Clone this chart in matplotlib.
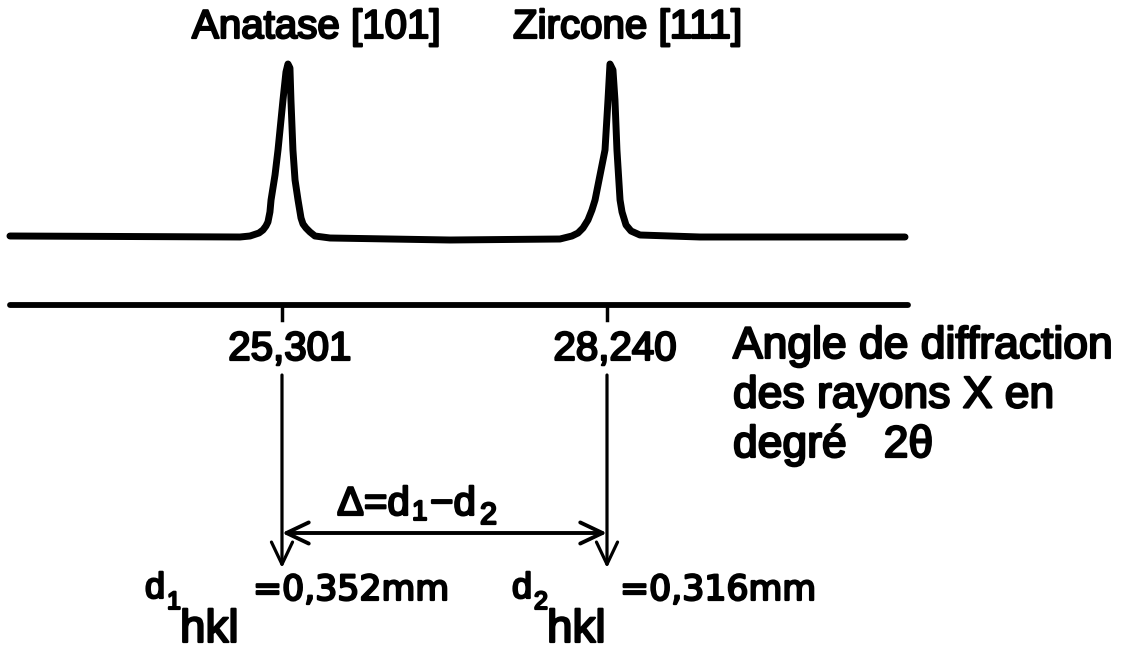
import matplotlib
matplotlib.use('Agg')
import matplotlib.pyplot as plt
from matplotlib.patches import FancyArrowPatch
import matplotlib.patheffects as pe

# Diffractogram trace (2 theta in degrees, intensity in arbitrary units)
two_theta = [22.841, 24.921, 25.012, 25.093, 25.129, 25.156, 25.174, 25.192, 25.202,
             25.238, 25.265, 25.292, 25.310, 25.337, 25.355, 25.373, 25.382, 25.400,
             25.419, 25.446, 25.473, 25.491, 25.518, 25.554, 25.599, 25.735, 26.820,
             27.815, 27.923, 27.978, 28.023, 28.068, 28.104, 28.132, 28.177, 28.222,
             28.249, 28.267, 28.294, 28.312, 28.330, 28.358, 28.376, 28.412, 28.457,
             28.538, 29.081, 30.935]
intensity = [0, -1, 0, 3, 6, 10, 14, 24, 36,
             61, 86, 116, 136, 164, 172, 168, 136, 86,
             56, 36, 18, 12, 8, 4, 0, -2, -4,
             -3, 0, 3, 8, 16, 26, 36, 61, 86,
             136, 172, 166, 136, 86, 36, 24, 11, 5,
             1, -1, -1]

peak_pos = [25.301, 28.240]
peak_names = ['Anatase [101]', 'Zircone [111]']
d_index = ['1', '2']
d_values = ['0,352mm', '0,316mm']
axis_label = ['Angle de diffraction', 'des rayons X en', 'degré   2θ']

W, H = 1142, 653
fig = plt.figure(figsize=(W / 100, H / 100), dpi=100)

# data axes: x in degrees, y in intensity units (1 unit = 1 px)
ax = fig.add_axes([0, 0, 1, 1])
ax.set_xlim(22.751, 33.078)
ax.set_ylim(-417, 236)
ax.axis('off')

# overlay in pixel units for the lettering
ov = fig.add_axes([0, 0, 1, 1])
ov.set_xlim(0, W)
ov.set_ylim(H, 0)
ov.axis('off')
ov.patch.set_alpha(0)

ax.plot(two_theta, intensity, color='black', lw=5, solid_capstyle='round',
        solid_joinstyle='round')

# 2 theta axis line with ticks
ax.plot([two_theta[0], 30.96], [-69, -69], color='black', lw=4.2, solid_capstyle='round')
for p in peak_pos:
    ax.plot([p, p], [-69, -84], color='black', lw=2.5)

fat = [pe.withStroke(linewidth=1.6, foreground='black')]
txt = dict(color='black', family=['Liberation Sans', 'DejaVu Sans'], path_effects=fat)
wide = dict(txt, family=['DejaVu Sans'])

# peak names
for x0, name in zip([192, 513], peak_names):
    ov.text(x0, 38, name, fontsize=29, ha='left', va='baseline', **txt)

# tick values
for xc, p in zip([290, 615], peak_pos):
    ov.text(xc, 360, f'{p:.3f}'.replace('.', ','), fontsize=29, ha='center',
            va='baseline', **txt)

# axis title
for i, line in enumerate(axis_label):
    ov.text(733, 358 + 49.5 * i, line, fontsize=32, ha='left', va='baseline', **txt)

# vertical arrows down to the d values
for p in peak_pos:
    ax.add_patch(FancyArrowPatch((p, -139), (p, -332),
                                 arrowstyle='->,head_length=0.8,head_width=0.38',
                                 mutation_scale=20, lw=2.3, color='black',
                                 shrinkA=0, shrinkB=0))

# delta double arrow
ax.add_patch(FancyArrowPatch((peak_pos[0], -297), (peak_pos[1], -297),
                             arrowstyle='<->,head_length=0.8,head_width=0.38',
                             mutation_scale=20, lw=2.8, color='black',
                             shrinkA=0, shrinkB=0))
ov.text(337, 515, 'Δ=d', fontsize=29, ha='left', va='baseline', **txt)
ov.text(412, 520, '1', fontsize=20, ha='left', va='baseline', **txt)
ov.text(430, 515, '−d', fontsize=29, ha='left', va='baseline', **txt)
ov.text(480, 524, '2', fontsize=22, ha='left', va='baseline', **txt)

# d_hkl values
for x0, idx, val in zip([145, 512], d_index, d_values):
    ov.text(x0, 598, 'd', fontsize=26, ha='left', va='baseline', **txt)
    ov.text(x0 + 22, 609, idx, fontsize=18, ha='left', va='baseline', **txt)
    ov.text(x0 + 35, 642, 'hkl', fontsize=33, ha='left', va='baseline', **txt)
    ov.text(x0 + 108, 600, '=' + val, fontsize=25, ha='left', va='baseline', **wide)

fig.savefig('out.png', dpi=100)
